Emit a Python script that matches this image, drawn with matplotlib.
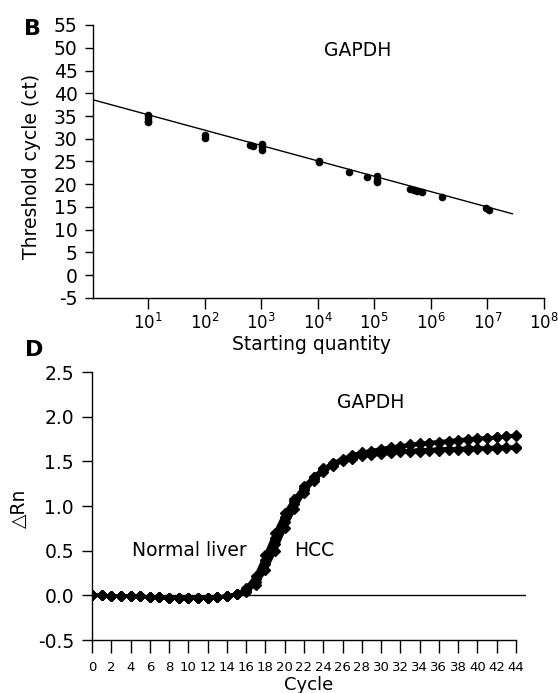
import numpy as np
import matplotlib
matplotlib.use("Agg")
import matplotlib.pyplot as plt

plt.rcParams['font.family'] = ['DejaVu Sans']

# ---------------- Panel B data: standard curve ----------------
log_quantity = [1.0, 1.0, 1.0, 1.0, 2.0, 2.0, 2.8, 2.86, 3.02, 3.02, 3.02,
                4.03, 4.03, 4.55, 4.88, 5.04, 5.04, 5.04, 5.63, 5.7, 5.76, 5.84,
                6.19, 6.98, 7.02]
ct_values = [35.2, 34.6, 34.0, 33.7, 30.9, 30.2, 28.6, 28.4, 28.8, 28.1, 27.6,
             25.2, 24.8, 22.6, 21.5, 21.8, 21.0, 20.4, 18.9, 18.7, 18.6, 18.4,
             17.2, 14.8, 14.4]
fit_slope = -3.38
fit_intercept = 38.66
fit_log_range = [0.03, 7.44]
b_xtick_exps = [1, 2, 3, 4, 5, 6, 7, 8]
b_yticks = [-5, 0, 5, 10, 15, 20, 25, 30, 35, 40, 45, 50, 55]

# ---------------- Panel D data: amplification curves ----------------
cycles = list(range(0, 45))
baseline = [0.00, 0.00, -0.01, -0.01, -0.01, -0.01, -0.02, -0.02, -0.03, -0.03,
            -0.03, -0.03, -0.03, -0.02, -0.01, 0.01]
curve1 = baseline + [0.08, 0.22, 0.45, 0.70, 0.92, 1.08, 1.22, 1.33, 1.42, 1.48,
                     1.52, 1.55, 1.57, 1.59, 1.60, 1.61, 1.62, 1.62, 1.63, 1.63,
                     1.64, 1.64, 1.64, 1.65, 1.65, 1.65, 1.66, 1.66, 1.66]
curve2 = baseline + [0.05, 0.15, 0.35, 0.58, 0.82, 1.02, 1.18, 1.30, 1.40, 1.47,
                     1.52, 1.56, 1.59, 1.61, 1.63, 1.65, 1.66, 1.68, 1.69, 1.70,
                     1.71, 1.72, 1.73, 1.74, 1.75, 1.76, 1.77, 1.78, 1.79]
curve3 = baseline + [0.04, 0.12, 0.28, 0.50, 0.75, 0.97, 1.15, 1.28, 1.38, 1.45,
                     1.50, 1.53, 1.56, 1.57, 1.58, 1.59, 1.60, 1.61, 1.61, 1.62,
                     1.62, 1.63, 1.63, 1.63, 1.64, 1.64, 1.64, 1.65, 1.65]
curve4 = baseline + [0.06, 0.18, 0.40, 0.64, 0.88, 1.06, 1.20, 1.32, 1.41, 1.48,
                     1.53, 1.57, 1.60, 1.62, 1.64, 1.66, 1.67, 1.69, 1.70, 1.71,
                     1.72, 1.73, 1.74, 1.75, 1.76, 1.76, 1.77, 1.78, 1.78]
curves = [curve1, curve2, curve3, curve4]
d_xticks = list(range(0, 45, 2))
d_yticks = [-0.5, 0.0, 0.5, 1.0, 1.5, 2.0, 2.5]

W, H = 558, 693
fig = plt.figure(figsize=(W / 100, H / 100), dpi=100)


def fx(x):
    return x / W


def fy(y):
    return 1 - y / H


# ---------------- Panel B ----------------
ax1 = fig.add_axes([fx(93), fy(298), fx(544 - 93), (298 - 25) / H])
ax1.set_xscale('log')
ax1.set_xlim(10 ** 0.028, 1e8)
ax1.set_ylim(-5, 55)
lx = np.array(fit_log_range)
ax1.plot(10 ** lx, fit_intercept + fit_slope * lx, color='black', lw=1.0)
ax1.plot(10 ** np.array(log_quantity), ct_values, 'o', color='black',
         markersize=5.5, markeredgewidth=0)
ax1.set_xticks([10.0 ** e for e in b_xtick_exps])
ax1.set_xticklabels([r'$10^{%d}$' % e for e in b_xtick_exps], fontsize=12)
ax1.minorticks_off()
ax1.set_yticks(b_yticks)
ax1.set_yticklabels([str(v) for v in b_yticks], fontsize=13.5)
ax1.spines['top'].set_visible(False)
ax1.spines['right'].set_visible(False)
for s in ['left', 'bottom']:
    ax1.spines[s].set_linewidth(1.0)
ax1.tick_params(axis='x', direction='out', length=8, width=1, pad=3)
ax1.tick_params(axis='y', direction='out', length=6, width=1, pad=5)
ax1.text(10 ** 4.71, 49.3, 'GAPDH', fontsize=13.5, ha='center', va='center')

fig.text(fx(33), fy(29), 'B', fontsize=16, fontweight='bold', ha='center', va='center')
fig.text(fx(32), fy(166), 'Threshold cycle (ct)', fontsize=13.5, rotation=90,
         ha='center', va='center')
fig.text(fx(311), fy(345), 'Starting quantity', fontsize=13.5, ha='center', va='center')

# ---------------- Panel D ----------------
ax2 = fig.add_axes([fx(92), fy(640), 45 * 9.636 / W, (640 - 372) / H])
ax2.set_xlim(0, 45)
ax2.set_ylim(-0.5, 2.5)
ax2.axhline(0, color='black', lw=1.0)
for c in curves:
    ax2.plot(cycles, c, color='black', lw=2.5, marker='D', markersize=5.5)
ax2.set_xticks(d_xticks)
ax2.set_xticklabels([str(v) for v in d_xticks], fontsize=9.5)
ax2.set_yticks(d_yticks)
ax2.set_yticklabels(['%.1f' % v for v in d_yticks], fontsize=13.5)
ax2.spines['top'].set_visible(False)
ax2.spines['right'].set_visible(False)
ax2.spines['left'].set_linewidth(1.0)
ax2.spines['bottom'].set_linewidth(1.0)
ax2.spines['bottom'].set_bounds(0, 44)
ax2.tick_params(axis='x', direction='out', length=9, width=1, pad=6)
ax2.tick_params(axis='y', direction='out', length=7, width=1, pad=6)
ax2.text(28.9, 2.16, 'GAPDH', fontsize=13.5, ha='center', va='center')
ax2.text(10.1, 0.50, 'Normal liver', fontsize=13.5, ha='center', va='center')
ax2.text(23.1, 0.50, 'HCC', fontsize=13.5, ha='center', va='center')

fig.text(fx(34), fy(350), 'D', fontsize=16, fontweight='bold', ha='center', va='center')
fig.text(fx(19), fy(508), '△Rn', fontsize=13.5, rotation=90, ha='center', va='center')
fig.text(fx(309), fy(685), 'Cycle', fontsize=13, ha='center', va='center')

fig.savefig('out.png', dpi=100)
